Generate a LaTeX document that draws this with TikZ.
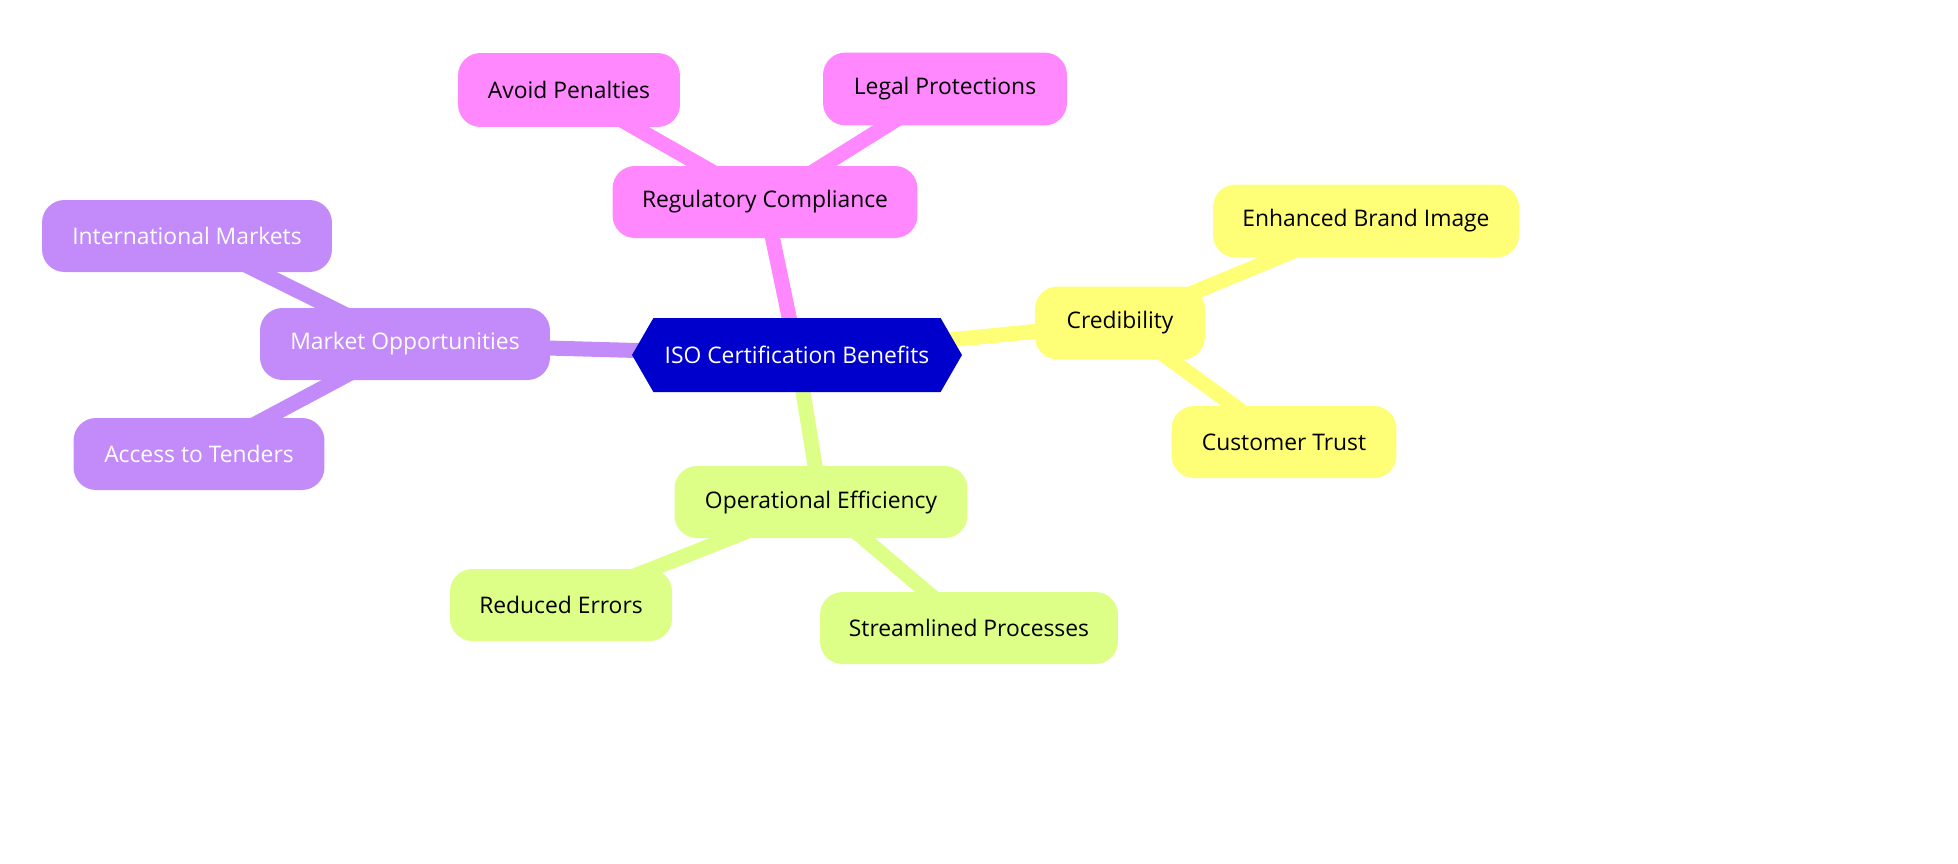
\documentclass[tikz,border=0pt]{standalone}
\usepackage{fontspec}
\setmainfont{Open Sans}
\usetikzlibrary{shapes.symbols,backgrounds}
\definecolor{pinkc}{HTML}{FF88FF}
\definecolor{purplec}{HTML}{C38AFA}
\definecolor{yellowc}{HTML}{FFFF77}
\definecolor{greenc}{HTML}{DDFF88}
\definecolor{rootc}{HTML}{0000CC}
\begin{document}
\begin{tikzpicture}[
  x=0.02cm, y=-0.02cm,
  topic/.style={rectangle, rounded corners=0.45cm, minimum height=1.44cm, inner sep=0pt, font=\fontsize{13}{16}\selectfont},
  pinkbox/.style={topic, fill=pinkc},
  purplebox/.style={topic, fill=purplec, text=white},
  yellowbox/.style={topic, fill=yellowc},
  greenbox/.style={topic, fill=greenc},
  link/.style={line width=0.3cm}
]
\useasboundingbox (0,0) rectangle (1958,863);
\node[signal, signal to=west and east, signal pointer angle=120, fill=rootc, text=white, minimum width=6.6cm, minimum height=1.48cm, inner sep=0pt, font=\fontsize{13}{16}\selectfont] (root) at (797,355) {ISO Certification Benefits};

\node[pinkbox, minimum width=6.1cm] (reg) at (765,202) {Regulatory Compliance};
\node[pinkbox, minimum width=4.44cm, minimum height=1.48cm] (pen) at (569,90) {Avoid Penalties};
\node[pinkbox, minimum width=4.88cm, minimum height=1.46cm] (legal) at (945,89) {Legal Protections};

\node[purplebox, minimum width=5.8cm] (market) at (405,344) {Market Opportunities};
\node[purplebox, minimum width=5.8cm] (intl) at (187,236) {International Markets};
\node[purplebox, minimum width=5.02cm] (tender) at (199,454) {Access to Tenders};

\node[yellowbox, minimum width=3.4cm, minimum height=1.46cm] (cred) at (1120,323) {Credibility};
\node[yellowbox, minimum width=6.12cm, minimum height=1.46cm] (brand) at (1366,221) {Enhanced Brand Image};
\node[yellowbox, minimum width=4.5cm] (trust) at (1284,442) {Customer Trust};

\node[greenbox, minimum width=5.86cm] (ops) at (821,502) {Operational Efficiency};
\node[greenbox, minimum width=4.44cm] (err) at (561,605) {Reduced Errors};
\node[greenbox, minimum width=5.96cm] (stream) at (969,628) {Streamlined Processes};

\begin{scope}[on background layer]
\draw[link, pinkc] (root.center) -- (reg.center);
\draw[link, pinkc] (reg.center) -- (pen.center);
\draw[link, pinkc] (reg.center) -- (legal.center);
\draw[link, purplec] (root.center) -- (market.center);
\draw[link, purplec] (market.center) -- (intl.center);
\draw[link, purplec] (market.center) -- (tender.center);
\draw[link, yellowc] (root.center) -- (cred.center);
\draw[link, yellowc] (cred.center) -- (brand.center);
\draw[link, yellowc] (cred.center) -- (trust.center);
\draw[link, greenc] (root.center) -- (ops.center);
\draw[link, greenc] (ops.center) -- (err.center);
\draw[link, greenc] (ops.center) -- (stream.center);
\end{scope}
\end{tikzpicture}
\end{document}
